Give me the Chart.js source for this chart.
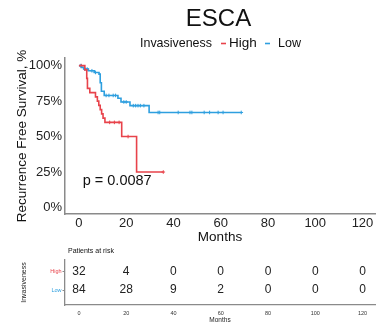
<!DOCTYPE html>
<html>
<head>
<meta charset="utf-8">
<script src="https://cdn.jsdelivr.net/npm/chart.js@4.4.1/dist/chart.umd.min.js"></script>
<style>
  html, body { margin: 0; padding: 0; background: #fff; }
  #wrap { position: relative; width: 383px; height: 328px; overflow: hidden; }
  #km { position: absolute; left: 0; top: 0; }
  #risk { position: absolute; left: 0; top: 245px; }
</style>
</head>
<body>
<div id="wrap">
  <canvas id="km" width="383" height="245" style="width:383px;height:245px"></canvas>
  <canvas id="risk" width="383" height="83" style="width:383px;height:83px"></canvas>
</div>
<script>
// Kaplan-Meier steps (months, survival %)
const highTimes = [0, 2.5, 3.3, 3.6, 4.6, 7, 7.8, 8.4, 9, 9.6, 10.2, 11, 18.1, 24.4, 35.7];
const highSurv  = [100, 97, 91, 84, 81, 78, 75, 72, 69, 66, 63, 60, 50, 25, 25];
const lowTimes  = [0, 1, 2, 4, 6.5, 8.5, 9, 9.5, 10.7, 16.5, 17.8, 21.6, 29.7, 68.7];
const lowSurv   = [100, 98.8, 97.6, 96.4, 95.2, 94, 88, 82, 79, 77, 74.4, 71.8, 67, 67];

// censored observations (months)
const highCensor = [1, 13, 15, 17, 20.8, 35.7];
const lowCensor  = [0.8, 2.5, 3.5, 5.5, 7, 11.5, 12.7, 14.5, 15.5, 19, 20, 23, 24, 25, 26, 27.5,
                    33.5, 34.2, 42, 47, 47.8, 53, 55.3, 58.9, 61, 68.7];

// number at risk table
const riskTimes = [0, 20, 40, 60, 80, 100, 120];
const riskHigh  = [32, 4, 0, 0, 0, 0, 0];
const riskLow   = [84, 28, 9, 2, 0, 0, 0];

const xTicks = [0, 20, 40, 60, 80, 100, 120];
const yTicks = [0, 25, 50, 75, 100];
const groups = ['High', 'Low'];
const pValue = 'p = 0.0087';

const FONT = "'Liberation Sans', Arial, Helvetica, sans-serif";
const RED = '#E8434B';
const BLUE = '#2E9FDF';
const AXIS = '#8a8a8a';

function survAt(times, surv, t) {
  let v = surv[0];
  for (let i = 0; i < times.length; i++) {
    if (times[i] <= t) v = surv[i];
  }
  return v;
}

// titre + légende + p-value
const headerPlugin = {
  id: 'header',
  afterDraw(chart) {
    const c = chart.ctx;
    c.save();
    c.fillStyle = '#111';
    c.textBaseline = 'middle';
    c.textAlign = 'center';
    c.font = '24px ' + FONT;
    c.fillText('ESCA', 218.5, 19);

    c.font = '13.5px ' + FONT;
    c.textAlign = 'left';
    c.fillText('Invasiveness', 140, 43, 72);
    c.lineWidth = 1.6;
    c.strokeStyle = RED;
    c.beginPath(); c.moveTo(221, 43.5); c.lineTo(226, 43.5); c.stroke();
    c.fillText(groups[0], 229, 43, 30);
    c.strokeStyle = BLUE;
    c.beginPath(); c.moveTo(265, 43.5); c.lineTo(270, 43.5); c.stroke();
    c.fillText(groups[1], 278, 43, 23);

    const xs = chart.scales.x, ys = chart.scales.y;
    c.font = '14.5px ' + FONT;
    c.fillText(pValue, xs.getPixelForValue(1.6), ys.getPixelForValue(19));
    c.restore();
  }
};

const kmChart = new Chart(document.getElementById('km'), {
  type: 'scatter',
  data: {
    datasets: [
      {
        label: groups[0],
        data: highTimes.map((t, i) => ({ x: t, y: highSurv[i] })),
        showLine: true, stepped: 'before',
        borderColor: RED, borderWidth: 1.6, pointRadius: 0
      },
      {
        label: groups[1],
        data: lowTimes.map((t, i) => ({ x: t, y: lowSurv[i] })),
        showLine: true, stepped: 'before',
        borderColor: BLUE, borderWidth: 1.6, pointRadius: 0
      },
      {
        label: 'High censor',
        data: highCensor.map(t => ({ x: t, y: survAt(highTimes, highSurv, t) })),
        showLine: false, pointStyle: 'cross', pointRadius: 1.8,
        borderColor: RED, borderWidth: 1
      },
      {
        label: 'Low censor',
        data: lowCensor.map(t => ({ x: t, y: survAt(lowTimes, lowSurv, t) })),
        showLine: false, pointStyle: 'cross', pointRadius: 1.8,
        borderColor: BLUE, borderWidth: 1
      }
    ]
  },
  options: {
    responsive: false,
    animation: false,
    layout: { padding: { top: 58, right: 8, left: 0, bottom: 0 } },
    plugins: { legend: { display: false }, tooltip: { enabled: false } },
    scales: {
      x: {
        type: 'linear', min: -5.9, max: 125.3,
        afterBuildTicks: s => { s.ticks = xTicks.map(v => ({ value: v })); },
        afterFit: s => { s.height = 31; },
        grid: { display: false, drawTicks: false },
        border: { display: true, color: AXIS, width: 1.5 },
        ticks: { font: { family: FONT, size: 13 }, color: '#222', padding: 2, maxRotation: 0 },
        title: { display: true, text: 'Months', font: { family: FONT, size: 13.5 }, color: '#111', padding: { top: 0, bottom: 0 } }
      },
      y: {
        type: 'linear', min: -4.6, max: 105.4,
        afterBuildTicks: s => { s.ticks = yTicks.map(v => ({ value: v })); },
        afterFit: s => { s.width = 65; },
        grid: { display: false, drawTicks: false },
        border: { display: true, color: AXIS, width: 1.5 },
        ticks: { font: { family: FONT, size: 13 }, color: '#222', padding: 3, callback: v => v + '%' },
        title: { display: true, text: 'Recurrence Free Survival, %', font: { family: FONT, size: 13.5 }, color: '#111', padding: { top: 14, bottom: 0 } }
      }
    }
  },
  plugins: [headerPlugin]
});

// tableau des patients à risque
const riskPlugin = {
  id: 'riskText',
  afterDraw(chart) {
    const c = chart.ctx;
    c.save();
    c.textBaseline = 'middle';
    c.textAlign = 'center';
    c.fillStyle = '#222';
    c.font = '12px ' + FONT;
    [riskHigh, riskLow].forEach((row, d) => {
      chart.getDatasetMeta(d).data.forEach((pt, i) => {
        c.fillText(String(row[i]), pt.x, pt.y);
      });
    });
    c.textAlign = 'left';
    c.font = '7px ' + FONT;
    c.fillStyle = '#111';
    c.fillText('Patients at risk', chart.chartArea.left + 3, 6.5);
    c.restore();
  }
};

const riskChart = new Chart(document.getElementById('risk'), {
  type: 'scatter',
  data: {
    datasets: [
      { label: groups[0], data: riskTimes.map(t => ({ x: t, y: 1 })), pointRadius: 0 },
      { label: groups[1], data: riskTimes.map(t => ({ x: t, y: 0 })), pointRadius: 0 }
    ]
  },
  options: {
    responsive: false,
    animation: false,
    layout: { padding: { top: 15, right: 8, left: 0, bottom: 0 } },
    plugins: { legend: { display: false }, tooltip: { enabled: false } },
    scales: {
      x: {
        type: 'linear', min: -5.9, max: 125.3,
        afterBuildTicks: s => { s.ticks = riskTimes.map(v => ({ value: v })); },
        afterFit: s => { s.height = 23; },
        grid: { display: false, drawTicks: false },
        border: { display: true, color: AXIS, width: 1.3 },
        ticks: { font: { family: FONT, size: 5.5 }, color: '#333', padding: 5, maxRotation: 0 },
        title: { display: true, text: 'Months', font: { family: FONT, size: 6.5 }, color: '#222', padding: { top: 0, bottom: 3.5 } }
      },
      y: {
        type: 'linear', min: -0.82, max: 1.64,
        afterBuildTicks: s => { s.ticks = [{ value: 1 }, { value: 0 }]; },
        afterFit: s => { s.width = 65; },
        grid: { display: true, drawOnChartArea: false, drawTicks: true, tickLength: 2.5, color: AXIS },
        border: { display: true, color: AXIS, width: 1.3 },
        ticks: {
          font: { family: FONT, size: 5.5 }, padding: 1,
          color: ctx => (ctx.tick && ctx.tick.value === 1) ? RED : BLUE,
          callback: v => (v === 1 ? groups[0] : groups[1])
        },
        title: { display: true, text: 'Invasiveness', font: { family: FONT, size: 7 }, color: '#222', padding: { top: 20, bottom: 0 } }
      }
    }
  },
  plugins: [riskPlugin]
});
</script>
</body>
</html>
